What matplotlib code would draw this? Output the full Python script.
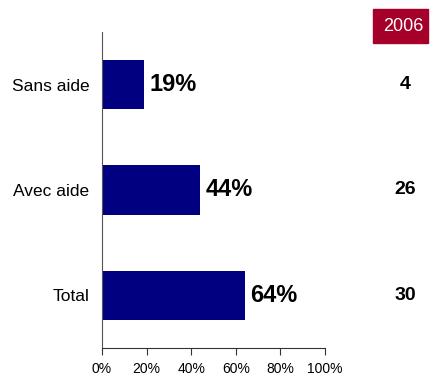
import matplotlib
matplotlib.use("Agg")
import matplotlib.pyplot as plt
from matplotlib.patches import Rectangle

categories = ["Sans aide", "Avec aide", "Total"]
values = [19, 44, 64]
counts_2006 = ["4", "26", "30"]
header = "2006"
xticks = [0, 20, 40, 60, 80, 100]

fig = plt.figure(figsize=(4.3, 3.75), dpi=100)
ax = fig.add_axes([102/430, 27/375, 223/430, 316/375])
ypos = list(range(len(categories)))[::-1]
ax.barh(ypos, values, height=0.47, color="#000080")
ax.set_xlim(0, 100)
ax.set_ylim(-0.5, 2.5)
ax.set_yticks(ypos)
ax.set_yticklabels(categories, fontsize=12.5, family="Liberation Sans")
ax.tick_params(axis="y", length=0, pad=9)
ax.set_xticks(xticks)
ax.set_xticklabels([f"{t}%" for t in xticks], fontsize=10, family="Liberation Sans")
ax.tick_params(axis="x", length=5, pad=5, color="#333333")
for s in ["top", "right"]:
    ax.spines[s].set_visible(False)
ax.spines["left"].set_color("#555555")
ax.spines["bottom"].set_color("#333333")
for y, v in zip(ypos, values):
    ax.text(v + 2.3, y, f"{v}%", va="center", ha="left", fontsize=17,
            fontweight="bold", family="Liberation Sans")

fig.patches.append(Rectangle((373/430, 1 - 43/375), 55/430, 34/375,
                             transform=fig.transFigure, color="#A5002A"))
fig.text(403/430, 1 - 26.5/375, header, color="white", fontsize=13,
         family="Liberation Sans", ha="center", va="center")
for y, c in zip(ypos, counts_2006):
    yf = ax.transData.transform((0, y))[1]
    fig.text(405/430, yf / 375, c, fontsize=14, fontweight="bold",
             family="Liberation Sans", ha="center", va="center")

fig.savefig("out.png", dpi=100)
